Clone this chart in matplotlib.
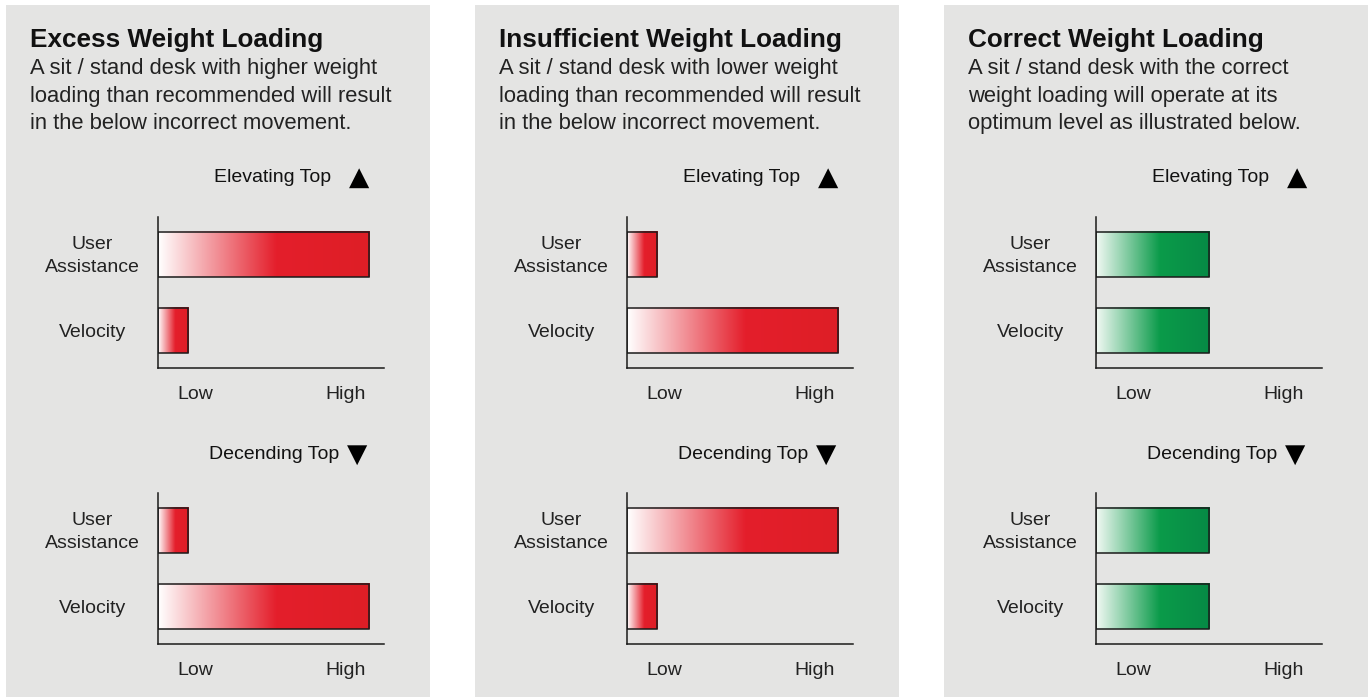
import numpy as np
import matplotlib
matplotlib.use("Agg")
import matplotlib.pyplot as plt
from matplotlib.colors import LinearSegmentedColormap
from matplotlib.patches import Rectangle
from matplotlib.transforms import ScaledTranslation

plt.rcParams["font.family"] = ["Liberation Sans", "DejaVu Sans"]

# ---- content -------------------------------------------------------------
panel_titles = [
    "Excess Weight Loading",
    "Insufficient Weight Loading",
    "Correct Weight Loading",
]
panel_text = [
    ["A sit / stand desk with higher weight",
     "loading than recommended will result",
     "in the below incorrect movement."],
    ["A sit / stand desk with lower weight",
     "loading than recommended will result",
     "in the below incorrect movement."],
    ["A sit / stand desk with the correct",
     "weight loading will operate at its",
     "optimum level as illustrated below."],
]
categories = ["User\nAssistance", "Velocity"]
level_ticks = [1.67, 8.3]
level_labels = ["Low", "High"]
chart_headers = ["Elevating Top", "Decending Top"]
header_marks = ["\u25B2", "\u25BC"]

# bar values (scale 0-10) for [User Assistance, Velocity]
elevating_values = [
    [9.35, 1.35],
    [1.35, 9.35],
    [5.0, 5.0],
]
descending_values = [
    [1.35, 9.35],
    [9.35, 1.35],
    [5.0, 5.0],
]
panel_scheme = ["red", "red", "green"]

# ---- styling -------------------------------------------------------------
W, H = 1370, 697
BG = "#e4e4e3"
cmaps = {
    "red": LinearSegmentedColormap.from_list(
        "redfade", [(0.0, "#ffffff"), (0.56, "#e41e2b"), (1.0, "#de1f26")]),
    "green": LinearSegmentedColormap.from_list(
        "greenfade", [(0.0, "#f2f9f4"), (0.56, "#0b9b4a"), (1.0, "#068a45")]),
}
gradient = np.linspace(0, 1, 256).reshape(1, -1)

fig = plt.figure(figsize=(W / 100, H / 100), dpi=100)
fig.patch.set_facecolor("white")


def px(x, y):
    """pixel position (from top-left) to figure fraction"""
    return x / W, 1 - y / H


panel_left = [6, 475, 944]
panel_w = 424


def draw_chart(ax, values, scheme):
    ypos = [1, 0]
    bars = ax.barh(ypos, values, height=0.6, color="none",
                   edgecolor="#1a1a1a", linewidth=1.1, zorder=3)
    for b in bars:
        x0, y0 = b.get_x(), b.get_y()
        ax.imshow(gradient, cmap=cmaps[scheme], aspect="auto",
                  extent=[x0, x0 + b.get_width(), y0, y0 + b.get_height()],
                  interpolation="bilinear", zorder=2)
    ax.set_xlim(0, 10)
    ax.set_ylim(-0.5, 1.5)
    ax.set_facecolor("none")
    for s in ["top", "right"]:
        ax.spines[s].set_visible(False)
    for s in ["left", "bottom"]:
        ax.spines[s].set_color("#1a1a1a")
        ax.spines[s].set_linewidth(1.1)
    ax.set_yticks(ypos)
    ax.set_yticklabels(categories, fontsize=14, color="#222222",
                       ha="center", multialignment="center", linespacing=1.45)
    ax.tick_params(axis="y", length=0, pad=47)
    # lift the two-line label slightly so it sits centred on its bar
    lab = ax.get_yticklabels()[0]
    lab.set_transform(lab.get_transform()
                      + ScaledTranslation(0, 4 / 100, fig.dpi_scale_trans))
    ax.set_xticks(level_ticks)
    ax.set_xticklabels(level_labels, fontsize=14, color="#222222")
    ax.tick_params(axis="x", length=0, pad=13)


for i in range(3):
    pl = panel_left[i]
    fig.add_artist(Rectangle((pl / W, 0), panel_w / W, (H - 5) / H,
                             transform=fig.transFigure, facecolor=BG,
                             edgecolor="none", zorder=0))
    # heading and description
    fx, fy = px(pl + 24, 46.5)
    fig.text(fx, fy, panel_titles[i], fontsize=18.8, fontweight="bold",
             color="#111111", va="baseline", ha="left")
    for j, line in enumerate(panel_text[i]):
        fx, fy = px(pl + 24, 74 + 27.6 * j)
        fig.text(fx, fy, line, fontsize=15.8, color="#222222",
                 va="baseline", ha="left")

    # two bar charts
    for k, (vals, top, bottom) in enumerate(
            [(elevating_values[i], 217, 368), (descending_values[i], 493, 644)]):
        left = pl + 151.5
        ax = fig.add_axes([left / W, 1 - bottom / H, 226.5 / W, (bottom - top) / H])
        draw_chart(ax, vals, panel_scheme[i])

        hy = top - 39.5 if k == 0 else top - 38.5
        fx, fy = px(pl + (325 if k == 0 else 333), hy)
        fig.text(fx, fy, chart_headers[k], fontsize=14, color="#111111",
                 ha="right", va="center")
        fx, fy = px(pl + (353 if k == 0 else 351.5), hy)
        fig.text(fx, fy, header_marks[k], fontsize=19, color="#000000",
                 ha="center", va="center", family=["DejaVu Sans"])

fig.savefig("out.png", dpi=100, facecolor="white")
